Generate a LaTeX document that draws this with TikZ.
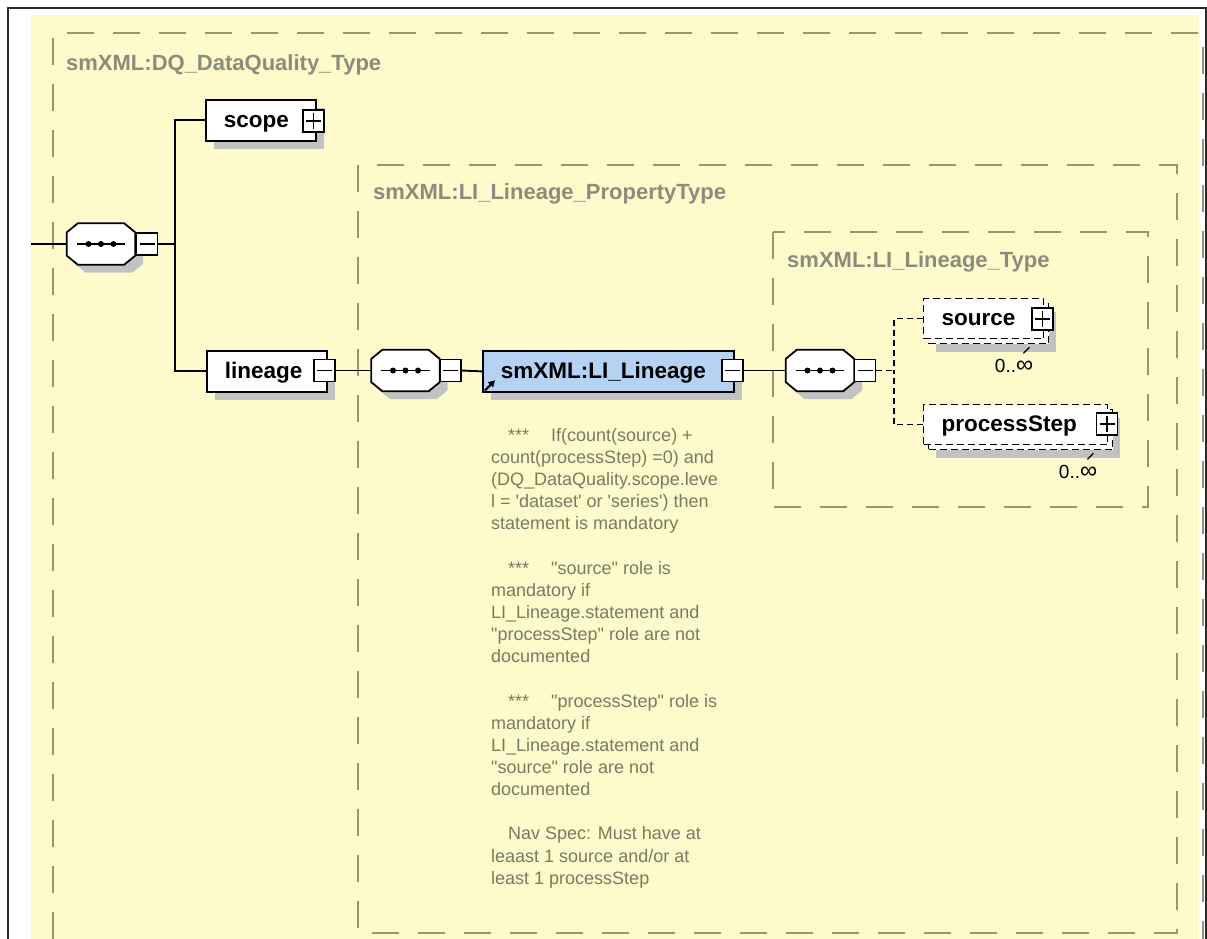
\documentclass[tikz,border=0pt]{standalone}
\usepackage{fontspec}
\setmainfont{Liberation Sans}
\usetikzlibrary{shadows,arrows.meta}

\definecolor{paper}{RGB}{255,250,204}
\definecolor{grpline}{RGB}{152,150,108}
\definecolor{grplabel}{RGB}{140,140,124}
\definecolor{notetext}{RGB}{122,122,100}
\definecolor{shade}{RGB}{194,194,194}
\definecolor{refblue}{RGB}{181,210,243}
\definecolor{frame}{RGB}{40,40,40}

\tikzset{
  grpbox/.style={draw=grpline, line width=1.8pt, dash pattern=on 27pt off 19pt},
  grplab/.style={text=grplabel, font=\fontsize{22}{26}\selectfont\bfseries,
    inner sep=0pt, anchor=base west},
  hardshadow/.style={general shadow={fill=shade, shadow xshift=8pt, shadow yshift=-8pt}},
  elembase/.style={draw, fill=white, inner xsep=18pt, inner ysep=0pt, align=left,
    text height=17pt, text depth=3pt,
    anchor=north west, font=\fontsize{22.5}{27}\selectfont\bfseries},
  elem/.style={elembase, line width=1.8pt, minimum height=41pt, hardshadow},
  optelem/.style={elembase, line width=1.4pt, dash pattern=on 7pt off 4pt, minimum height=40pt,
    general shadow={fill=shade, shadow xshift=12pt, shadow yshift=-13pt},
    general shadow={fill=white, draw=black, line width=1.4pt, dash pattern=on 7pt off 4pt,
      shadow xshift=5pt, shadow yshift=-5pt}},
  seqbox/.style={minimum width=68pt, minimum height=41pt, inner sep=0pt},
  togglebox/.style={draw, fill=white, line width=1.5pt, minimum width=21pt,
    minimum height=22pt, inner sep=0pt},
  minusbox/.style={togglebox,
    path picture={
      \draw[line width=1.5pt] ([xshift=3pt]path picture bounding box.west)
        -- ([xshift=-3pt]path picture bounding box.east);
    }},
  plusbox/.style={togglebox,
    path picture={
      \draw[line width=1.5pt] ([xshift=3pt]path picture bounding box.west)
        -- ([xshift=-3pt]path picture bounding box.east);
      \draw[line width=1.5pt] ([yshift=-3pt]path picture bounding box.north)
        -- ([yshift=3pt]path picture bounding box.south);
    }},
  conn/.style={line width=1.9pt},
  optconn/.style={line width=1.5pt, dash pattern=on 6pt off 4pt},
  occ/.style={font=\fontsize{19}{22}\selectfont, inner sep=0pt},
  note/.style={text=notetext, font=\fontsize{18}{22.15}\selectfont, inner sep=0pt,
    align=left, anchor=north west}
}

% octagonal outline of a sequence compositor node
\newcommand\octagon[2]{%
  \path[#1] ([xshift=11pt]#2.north west) -- ([xshift=-11pt]#2.north east)
    -- ([yshift=-9pt]#2.north east) -- ([yshift=9pt]#2.south east)
    -- ([xshift=-11pt]#2.south east) -- ([xshift=11pt]#2.south west)
    -- ([yshift=9pt]#2.south west) -- ([yshift=-9pt]#2.north west) -- cycle;}
% full sequence compositor: shadow, outline and the dotted bar
\newcommand\seqmark[1]{%
  \octagon{fill=shade, transform canvas={shift={(8pt,-8pt)}}}{#1}%
  \octagon{draw, fill=white, line width=1.8pt}{#1}%
  \draw[line width=1.7pt] ([xshift=10pt]#1.west) -- ([xshift=-10pt]#1.east);
  \foreach \dx in {-12.5,0,12.5}
    \fill[black] ([xshift=\dx pt]#1.center) circle (3pt);}
% occurrence range with a wider infinity sign
\newcommand\unbounded{0..{\fontsize{24}{24}\selectfont ∞}}

\begin{document}
\begin{tikzpicture}[x=1pt,y=-1pt]
  \useasboundingbox (0,0) rectangle (1207,939);
  \fill[white] (0,0) rectangle (1207,939);
  \fill[paper] (31,15) rectangle (1199,939);
  \draw[frame, line width=1.6pt] (8,939) -- (8,8) -- (1206,8) -- (1206,939);

  % nested type groups
  \draw[grpbox] (53,939) -- (53,33) -- (1203,33) -- (1203,939);
  \node[grplab] (dqlab) at (66,70.5) {smXML:DQ\_DataQuality\_Type};
  \draw[grpbox] (358,165) rectangle (1177,933);
  \node[grplab] (proplab) at (373,199) {smXML:LI\_Lineage\_PropertyType};
  \draw[grpbox] (773,232) rectangle (1148,507);
  \node[grplab] (typelab) at (787,267) {smXML:LI\_Lineage\_Type};

  % DQ_DataQuality sequence
  \coordinate (entry) at (31,244);
  \coordinate (t1) at (175,244);
  \node[seqbox] (c1) at (101,244) {};
  \seqmark{c1}
  \node[minusbox] (c1m) at (147,244) {};
  \node[elem, text width=74pt] (scope) at (205,99) {scope};
  \node[plusbox] (scopep) at (313.5,121) {};
  \node[elem, text width=84pt] (lineage) at (206,350) {lineage};
  \node[minusbox] (lineagem) at (324.5,370.5) {};
  \draw[conn] (entry) -- (c1.west);
  \draw[conn] (c1m.east) -- (t1);
  \draw[conn] (scope.west) -| (t1);
  \draw[conn] (lineage.west) -| (t1);

  % LI_Lineage_PropertyType sequence
  \node[seqbox] (c2) at (405.5,370.5) {};
  \seqmark{c2}
  \node[minusbox] (c2m) at (450.5,370.5) {};
  \node[elem, fill=refblue, text width=215pt] (lin) at (482,350) {smXML:LI\_Lineage};
  \node[minusbox] (linm) at (732.5,370.5) {};
  \draw[line width=2.2pt, -{Triangle[length=6.5pt,width=7pt]}]
    ([shift={(3,-2.5)}]lin.south west) -- ++(10,-10);
  \draw[conn] (lineagem.east) -- (c2.west);
  \draw[conn] (c2m.east) -- (lin.west);

  % LI_Lineage_Type sequence
  \node[seqbox] (c3) at (820,370.5) {};
  \seqmark{c3}
  \node[minusbox] (c3m) at (865,370.5) {};
  \coordinate (t3) at (894,370.5);
  \draw[conn] (linm.east) -- (c3.west);
  \node[optelem, text width=84pt] (source) at (923,298) {source};
  \node[plusbox] (sourcep) at (1042.5,319) {};
  \node[optelem, text width=148pt] (step) at (923,404) {processStep};
  \node[plusbox] (stepp) at (1107,424) {};
  \draw[optconn] (c3m.east) -- (t3);
  \draw[optconn] (source.west) -| (t3);
  \draw[optconn] (step.west) -| (t3);

  % occurrence ranges
  \draw[line width=1.2pt] ([shift={(-21,14)}]source.south east) -- ++(6,-6);
  \node[occ, anchor=east] (sourceocc) at ([shift={(-11,27)}]source.south east) {\unbounded};
  \draw[line width=1.2pt] ([shift={(-21,14)}]step.south east) -- ++(6,-6);
  \node[occ, anchor=east] (stepocc) at ([shift={(-11,27)}]step.south east) {\unbounded};

  % annotation of LI_Lineage
  \node[note] (rules) at (491,428) {%
    \hspace*{17pt}***\hspace*{22pt}If(count(source) +\\
    count(processStep) =0) and\\
    (DQ\_DataQuality.scope.leve\\
    l = \textquotesingle dataset\textquotesingle{} or \textquotesingle series\textquotesingle) then\\
    statement is mandatory\\[22.15pt]
    \hspace*{17pt}***\hspace*{22pt}\textquotedbl source\textquotedbl{} role is\\
    mandatory if\\
    LI\_Lineage.statement and\\
    \textquotedbl processStep\textquotedbl{} role are not\\
    documented\\[22.15pt]
    \hspace*{17pt}***\hspace*{22pt}\textquotedbl processStep\textquotedbl{} role is\\
    mandatory if\\
    LI\_Lineage.statement and\\
    \textquotedbl source\textquotedbl{} role are not\\
    documented\\[22.15pt]
    \hspace*{17pt}Nav Spec: Must have at\\
    leaast 1 source and/or at\\
    least 1 processStep};
\end{tikzpicture}
\end{document}
